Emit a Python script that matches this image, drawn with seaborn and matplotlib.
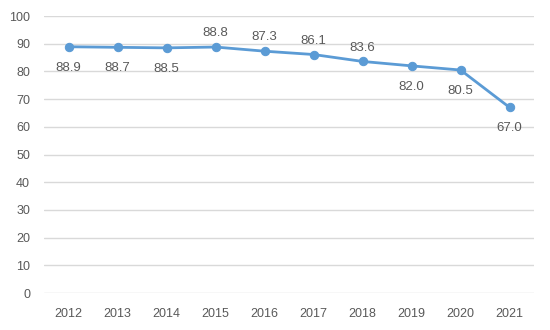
import matplotlib
matplotlib.use("Agg")
import matplotlib.pyplot as plt
import seaborn as sns
import pandas as pd

years = ["2012", "2013", "2014", "2015", "2016", "2017", "2018", "2019", "2020", "2021"]
values = [88.9, 88.7, 88.5, 88.8, 87.3, 86.1, 83.6, 82.0, 80.5, 67.0]
label_above = [False, False, False, True, True, True, True, False, False, False]
yticks = [0, 10, 20, 30, 40, 50, 60, 70, 80, 90, 100]

sns.set_theme(style="white")
plt.rcParams["font.family"] = ["Liberation Sans", "DejaVu Sans"]

color = "#5B9BD5"
text_color = "#595959"

df = pd.DataFrame({"year": years, "value": values})

fig = plt.figure(figsize=(5.5, 3.3), dpi=100)
ax = fig.add_axes([0.08, 0.112, 0.891, 0.8395])

sns.lineplot(data=df, x="year", y="value", ax=ax, color=color, linewidth=2.0,
             marker="o", markersize=6, markeredgecolor=color, sort=False)

for i, (v, up) in enumerate(zip(values, label_above)):
    ax.annotate(f"{v:.1f}", (i, v), xytext=(0, 10 if up else -15),
                textcoords="offset points", ha="center", va="center",
                fontsize=9.5, color=text_color)

ax.set_ylim(0, 100)
ax.set_xlim(-0.5, len(years) - 0.5)
ax.set_yticks(yticks)
ax.set_xticks(range(len(years)))
ax.set_xticklabels(years)
ax.yaxis.grid(True, color="#D9D9D9", linewidth=1)
ax.xaxis.grid(False)
for s in ax.spines.values():
    s.set_visible(False)
ax.tick_params(axis="y", length=0, pad=10, labelsize=9, labelcolor=text_color)
ax.tick_params(axis="x", length=0, pad=11, labelsize=9, labelcolor=text_color)
ax.set_xlabel("")
ax.set_ylabel("")

fig.savefig("out.png", dpi=100)
